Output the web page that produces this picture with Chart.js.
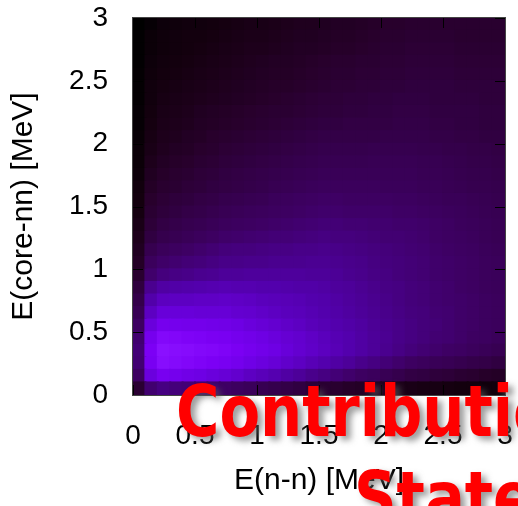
<!DOCTYPE html>
<html>
<head>
<meta charset="utf-8">
<script src="https://cdn.jsdelivr.net/npm/chart.js@4.4.1/dist/chart.umd.min.js"></script>
<style>
  html, body { margin: 0; padding: 0; background: #fff; overflow: hidden; }
  #wrap { position: relative; width: 518px; height: 506px; }
</style>
</head>
<body>
<div id="wrap"><canvas id="dalitz"></canvas></div>
<script>
// Bin edges (MeV): 0.1 MeV bins for E(n-n) along x and E(core-nn) along y
const nnEdges   = [0, 0.1, 0.2, 0.3, 0.4, 0.5, 0.6, 0.7, 0.8, 0.9, 1, 1.1, 1.2, 1.3, 1.4, 1.5,
                   1.6, 1.7, 1.8, 1.9, 2, 2.1, 2.2, 2.3, 2.4, 2.5, 2.6, 2.7, 2.8, 2.9, 3];
const coreEdges = [0, 0.1, 0.2, 0.3, 0.4, 0.5, 0.6, 0.7, 0.8, 0.9, 1, 1.1, 1.2, 1.3, 1.4, 1.5,
                   1.6, 1.7, 1.8, 1.9, 2, 2.1, 2.2, 2.3, 2.4, 2.5, 2.6, 2.7, 2.8, 2.9, 3];

// Axis ticks
const tickValues = [0, 0.5, 1, 1.5, 2, 2.5, 3];
const tickLabels = ['0', '0.5', '1', '1.5', '2', '2.5', '3'];

// Relative yield (% of maximum) per bin; one row per E(core-nn) bin, bottom to top
const yRow00 = [22,43,48,46,45,43,42,40,38,36,33,31,29,27,24,22,21,19,18,16,15,13,12,11,11,10,9,9,8,8];
const yRow01 = [39,78,87,85,82,80,77,75,72,68,65,62,58,55,51,48,45,42,39,37,34,31,28,27,25,24,22,21,19,18];
const yRow02 = [44,88,98,96,94,92,90,88,85,81,78,75,71,68,64,61,58,55,51,48,45,42,39,37,35,34,32,30,29,27];
const yRow03 = [45,90,100,98,97,95,94,92,89,86,83,80,76,73,70,67,64,61,58,55,52,49,46,44,42,40,39,37,35,33];
const yRow04 = [43,86,95,94,92,91,89,88,85,83,80,77,74,72,69,66,63,61,58,55,53,50,48,46,44,43,41,39,38,36];
const yRow05 = [39,77,86,85,84,84,83,82,80,77,75,73,70,68,65,63,61,59,57,54,52,50,48,46,45,43,41,40,38,37];
const yRow06 = [34,68,76,76,76,75,75,75,73,72,70,68,66,65,63,61,59,57,55,53,51,49,47,46,44,43,41,40,38,37];
const yRow07 = [30,60,67,68,68,69,69,70,69,68,66,65,64,63,61,60,58,56,54,52,50,48,46,45,43,42,41,40,38,37];
const yRow08 = [26,52,58,59,60,61,62,63,62,62,61,61,60,59,59,58,56,55,53,51,49,48,46,45,43,42,40,39,37,36];
const yRow09 = [21,42,47,49,50,52,53,55,55,56,56,56,56,56,55,55,54,52,51,49,48,46,45,44,42,41,40,39,37,36];
const yRow10 = [18,37,41,43,45,46,48,50,50,51,51,52,52,52,53,53,52,51,50,48,47,46,45,44,42,41,40,39,37,36];
const yRow11 = [16,32,36,38,40,42,44,46,47,47,48,49,49,50,50,51,50,49,48,47,46,45,44,43,41,40,39,38,36,35];
const yRow12 = [14,27,31,33,35,37,39,41,42,43,44,45,45,46,47,48,47,47,46,45,44,44,43,42,40,39,38,37,35,34];
const yRow13 = [12,24,28,30,32,33,35,37,38,39,40,41,42,43,44,45,45,44,44,43,43,42,42,41,40,39,37,36,35,34];
const yRow14 = [10,22,25,27,29,30,32,34,35,36,37,38,39,40,41,42,42,41,41,41,41,40,40,39,38,37,36,35,34,33];
const yRow15 = [9,20,23,25,26,28,29,31,32,33,34,36,37,38,39,40,40,39,39,39,39,38,38,37,36,35,35,34,33,32];
const yRow16 = [8,18,21,22,24,25,27,28,29,30,31,33,34,35,36,37,37,37,37,37,36,36,36,35,35,34,33,32,32,31];
const yRow17 = [6,16,19,21,22,24,25,27,28,29,30,31,32,33,34,35,35,35,35,35,35,35,35,34,34,33,32,31,31,30];
const yRow18 = [5,14,17,19,20,22,23,25,26,27,28,29,30,31,32,33,33,33,33,34,34,34,34,33,33,32,31,30,30,29];
const yRow19 = [5,12,15,17,18,20,21,23,24,25,26,27,28,29,30,31,31,31,31,32,32,32,32,31,31,30,30,29,29,28];
const yRow20 = [4,11,14,15,17,18,20,21,22,23,24,25,26,27,28,29,29,29,29,29,30,30,30,30,29,29,28,28,27,27];
const yRow21 = [3,10,13,14,15,17,18,19,20,21,22,23,24,25,26,27,27,28,28,28,28,29,29,29,28,28,27,27,26,26];
const yRow22 = [3,9,12,13,14,16,17,18,19,20,21,22,22,23,24,25,25,26,26,27,27,28,28,28,27,27,27,27,26,26];
const yRow23 = [2,8,11,12,13,14,15,16,17,18,19,20,21,22,23,24,24,25,25,26,26,27,27,27,26,26,26,26,25,25];
const yRow24 = [2,8,10,11,12,13,14,15,16,17,18,19,19,20,21,22,23,23,24,24,25,25,26,26,26,26,25,25,25,25];
const yRow25 = [2,7,9,10,11,12,13,14,15,16,17,18,18,19,20,21,22,22,23,23,24,24,25,25,25,25,24,24,24,24];
const yRow26 = [1,6,8,9,10,11,12,13,14,15,16,17,17,18,19,20,21,21,22,22,23,23,24,24,24,24,23,23,23,23];
const yRow27 = [1,5,7,8,9,10,11,12,13,14,14,15,16,17,17,18,19,19,20,21,22,22,23,23,23,23,22,22,22,22];
const yRow28 = [1,5,7,8,9,9,10,11,12,13,13,14,15,16,16,17,18,18,19,20,21,21,22,22,22,22,21,21,21,21];
const yRow29 = [0,3,6,7,8,8,9,10,11,12,12,13,14,15,15,16,17,17,18,19,20,20,21,21,21,21,21,21,21,21];

const yieldRows = [yRow00, yRow01, yRow02, yRow03, yRow04, yRow05, yRow06, yRow07, yRow08, yRow09,
                   yRow10, yRow11, yRow12, yRow13, yRow14, yRow15, yRow16, yRow17, yRow18, yRow19,
                   yRow20, yRow21, yRow22, yRow23, yRow24, yRow25, yRow26, yRow27, yRow28, yRow29];

// Headline lines drawn across the lower part of the figure
const headlineLines = ['Contribution', 'State'];

// Black -> dark magenta -> violet colour scale
const paletteStops = [
  [0.0, 0, 0, 0], [0.1, 21, 0, 16], [0.2, 40, 0, 44], [0.3, 52, 0, 74], [0.4, 62, 0, 100],
  [0.5, 72, 0, 136], [0.6, 82, 0, 170], [0.7, 96, 0, 200], [0.8, 110, 0, 228], [0.9, 124, 0, 245],
  [1.0, 138, 16, 255]
];
function paletteColour(pct) {
  const v = Math.max(0, Math.min(1, pct / 100));
  for (let k = 1; k < paletteStops.length; k++) {
    const a = paletteStops[k - 1], b = paletteStops[k];
    if (v <= b[0]) {
      const t = (v - a[0]) / (b[0] - a[0]);
      const c = [1, 2, 3].map(j => Math.round(a[j] + (b[j] - a[j]) * t));
      return `rgb(${c[0]},${c[1]},${c[2]})`;
    }
  }
  return 'rgb(138,16,255)';
}

// One floating-bar dataset per E(core-nn) bin row
const datasets = yieldRows.map((row, r) => ({
  data: row.map((_, i) => ({ x: (nnEdges[i] + nnEdges[i + 1]) / 2, y: [coreEdges[r], coreEdges[r + 1]] })),
  backgroundColor: row.map(paletteColour),
  borderWidth: 0,
  inflateAmount: 1,
  barPercentage: 1,
  categoryPercentage: 1,
  grouped: false
}));

const FONT = '"Liberation Sans", Arial, sans-serif';

// Inward tick marks on all four sides plus the frame
const frameTicks = {
  id: 'frameTicks',
  afterDatasetsDraw(chart) {
    const { ctx, chartArea: a, scales: { x, y } } = chart;
    ctx.save();
    ctx.strokeStyle = '#000';
    ctx.lineWidth = 1;
    ctx.beginPath();
    tickValues.forEach(v => {
      const px = Math.round(x.getPixelForValue(v)) + 0.5;
      ctx.moveTo(px, a.bottom); ctx.lineTo(px, a.bottom - 10);
      ctx.moveTo(px, a.top); ctx.lineTo(px, a.top + 10);
      const py = Math.round(y.getPixelForValue(v)) + 0.5;
      ctx.moveTo(a.left, py); ctx.lineTo(a.left + 10, py);
      ctx.moveTo(a.right, py); ctx.lineTo(a.right - 10, py);
    });
    ctx.stroke();
    ctx.strokeStyle = '#444';
    ctx.strokeRect(a.left - 0.5, a.top - 0.5, a.width + 1, a.height + 1);
    ctx.restore();
  }
};

// Red headline text laid over the plot, horizontally fitted to the frame
const headline = {
  id: 'headline',
  afterDraw(chart) {
    const ctx = chart.ctx;
    ctx.save();
    ctx.font = 'bold 72px "DejaVu Sans", sans-serif';
    const sx = 337 / ctx.measureText(headlineLines[0].slice(0, 10)).width;
    ctx.fillStyle = '#ff0000';
    ctx.shadowColor = 'rgba(90,90,90,0.6)';
    ctx.shadowBlur = 6;
    ctx.shadowOffsetX = 5;
    ctx.shadowOffsetY = 4;
    ctx.textBaseline = 'alphabetic';
    ctx.setTransform(sx, 0, 0, 1, 176, 436);
    ctx.fillText(headlineLines[0], 0, 0);
    ctx.setTransform(sx, 0, 0, 1, 354, 522);
    ctx.fillText(headlineLines[1], 0, 0);
    ctx.restore();
  }
};

new Chart(document.getElementById('dalitz'), {
  type: 'bar',
  data: { datasets },
  plugins: [frameTicks, headline],
  options: {
    responsive: true,
    maintainAspectRatio: false,
    animation: false,
    events: [],
    layout: { padding: { top: 18, right: 13, left: 0, bottom: 0 } },
    plugins: { legend: { display: false }, tooltip: { enabled: false } },
    scales: {
      x: {
        type: 'linear', min: 0, max: 3, offset: false,
        afterBuildTicks: s => { s.ticks = tickValues.map(v => ({ value: v })); },
        afterFit: s => { s.height = 111; s.paddingLeft = 0; s.paddingRight = 0; },
        grid: { drawOnChartArea: false, drawTicks: false },
        border: { display: false },
        ticks: {
          padding: 24, color: '#000', maxRotation: 0, autoSkip: false,
          font: { family: FONT, size: 28 },
          callback: (v, i) => tickLabels[i]
        },
        title: {
          display: true, text: 'E(n-n) [MeV]', color: '#000',
          font: { family: FONT, size: 30 }, padding: { top: 0, bottom: 7 }
        }
      },
      y: {
        type: 'linear', min: 0, max: 3,
        afterBuildTicks: s => { s.ticks = tickValues.map(v => ({ value: v })); },
        afterFit: s => { s.width = 133; s.paddingTop = 0; s.paddingBottom = 0; },
        grid: { drawOnChartArea: false, drawTicks: false },
        border: { display: false },
        ticks: {
          padding: 25, color: '#000', autoSkip: false,
          font: { family: FONT, size: 28 },
          callback: (v, i) => tickLabels[i]
        },
        title: {
          display: true, text: 'E(core-nn) [MeV]', color: '#000',
          font: { family: FONT, size: 30 }, padding: { top: 6, bottom: 0 }
        }
      }
    }
  }
});
</script>
</body>
</html>
